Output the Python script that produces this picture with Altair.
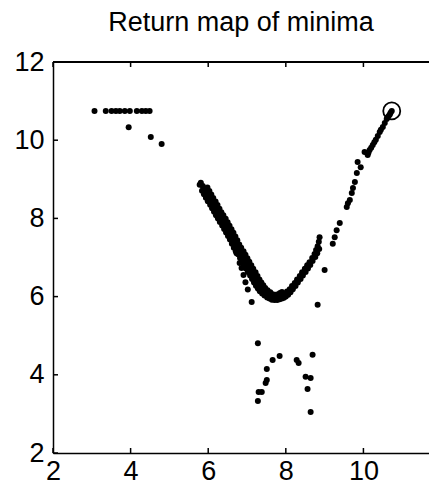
import altair as alt
import pandas as pd

FONT = "Liberation Sans"

# --- data -----------------------------------------------------------------
top_row_x = [3.07, 3.36, 3.51, 3.62, 3.72, 3.85, 3.98, 4.16, 4.29, 4.39, 4.49]
top_row_y = [10.75, 10.75, 10.75, 10.75, 10.75, 10.75, 10.75, 10.75, 10.75, 10.75, 10.75]

top_scatter_x = [3.95, 4.52, 4.80]
top_scatter_y = [10.33, 10.08, 9.90]

v_center_x = [5.81, 5.86, 5.91, 5.96, 6.01, 6.06, 6.12, 6.17, 6.22, 6.27, 6.32, 6.38, 6.43,
              6.48, 6.53, 6.58, 6.63, 6.68, 6.73, 6.79, 6.84, 6.89, 6.94, 6.99, 7.04, 7.10,
              7.15, 7.20, 7.25, 7.30, 7.35, 7.40, 7.46, 7.52, 7.59, 7.65, 7.71, 7.78, 7.84,
              7.90, 7.97, 8.03, 8.10, 8.16, 8.23, 8.29, 8.36, 8.42, 8.49, 8.55, 8.61, 8.68,
              8.74, 8.78, 8.82, 8.85, 8.87]
v_center_y = [8.91, 8.83, 8.75, 8.66, 8.57, 8.48, 8.39, 8.30, 8.21, 8.12, 8.04, 7.95, 7.86,
              7.77, 7.68, 7.59, 7.50, 7.40, 7.29, 7.20, 7.12, 7.03, 6.94, 6.85, 6.76, 6.67,
              6.58, 6.49, 6.40, 6.32, 6.25, 6.18, 6.12, 6.07, 6.02, 5.99, 5.96, 5.97, 5.99,
              6.03, 6.07, 6.13, 6.19, 6.27, 6.35, 6.44, 6.53, 6.62, 6.71, 6.80, 6.88, 6.99,
              7.09, 7.19, 7.29, 7.40, 7.52]

v_upper_x = [5.98, 6.03, 6.08, 6.13, 6.19, 6.24, 6.29, 6.34, 6.39, 6.45, 6.50, 6.55, 6.60,
             6.65, 6.70, 6.75, 6.80, 6.85, 6.91, 6.96, 7.01, 7.06, 7.11, 7.16, 7.22, 7.27,
             7.32, 7.37, 7.42, 7.47, 7.53, 7.60, 7.66, 7.73, 7.80, 7.85, 7.90]
v_upper_y = [8.79, 8.70, 8.61, 8.52, 8.43, 8.34, 8.25, 8.16, 8.08, 7.99, 7.90, 7.81, 7.72,
             7.63, 7.54, 7.44, 7.33, 7.25, 7.16, 7.07, 6.98, 6.89, 6.80, 6.71, 6.62, 6.53,
             6.44, 6.36, 6.29, 6.22, 6.16, 6.11, 6.06, 6.05, 6.06, 6.09, 6.12]

v_lower_x = [5.78, 5.84, 5.89, 5.94, 5.99, 6.05, 6.10, 6.15, 6.20, 6.25, 6.30, 6.36, 6.41,
             6.46, 6.51, 6.56, 6.61, 6.66, 6.71, 6.77, 6.82, 6.87, 6.92, 6.97, 7.02, 7.08,
             7.13, 7.18, 7.23, 7.28, 7.33, 7.39, 7.45, 7.52, 7.58, 7.64, 7.71, 7.78, 7.84,
             7.90, 7.95, 8.00, 8.06, 8.12, 8.18, 8.25, 8.31, 8.38, 8.44, 8.51, 8.57, 8.63,
             8.69, 8.76, 8.81, 8.86]
v_lower_y = [8.86, 8.71, 8.62, 8.53, 8.44, 8.35, 8.26, 8.17, 8.08, 8.00, 7.91, 7.82, 7.73,
             7.64, 7.55, 7.46, 7.35, 7.25, 7.16, 7.08, 6.99, 6.90, 6.81, 6.72, 6.63, 6.54,
             6.45, 6.36, 6.28, 6.21, 6.14, 6.08, 6.03, 5.98, 5.95, 5.92, 5.91, 5.91, 5.93,
             5.95, 5.97, 6.00, 6.05, 6.11, 6.19, 6.27, 6.36, 6.45, 6.54, 6.63, 6.72, 6.81,
             6.91, 7.01, 7.11, 7.22]

branch_x = [6.60, 6.73, 6.81, 6.86, 6.91, 6.96, 7.02, 7.12]
branch_y = [7.45, 7.11, 6.86, 6.73, 6.55, 6.37, 6.18, 5.86]

right_dots_x = [8.82, 9.00, 9.21, 9.26, 9.31, 9.39, 9.57, 9.60, 9.65, 9.70, 9.73, 9.78,
                9.83, 9.85, 9.93]
right_dots_y = [5.79, 6.68, 7.35, 7.52, 7.70, 7.88, 8.29, 8.39, 8.47, 8.65, 8.78, 8.93,
                9.16, 9.44, 9.31]

upper_line_x = [10.03, 10.11, 10.13, 10.16, 10.20, 10.24, 10.28, 10.32, 10.37, 10.42, 10.45,
                10.50, 10.55, 10.60, 10.62, 10.65, 10.68, 10.70, 10.73]
upper_line_y = [9.70, 9.62, 9.68, 9.75, 9.81, 9.88, 9.95, 10.01, 10.11, 10.21, 10.27,
                10.34, 10.44, 10.54, 10.58, 10.62, 10.66, 10.70, 10.75]

low_x = [7.28, 7.84, 7.66, 7.51, 7.51, 7.48, 7.38, 7.30, 7.28, 8.28, 8.33, 8.69, 8.51,
         8.64, 8.56, 8.64]
low_y = [4.81, 4.48, 4.38, 4.15, 3.87, 3.79, 3.56, 3.56, 3.33, 4.38, 4.30, 4.51, 3.95,
         3.92, 3.64, 3.05]

marker_x = [10.73]
marker_y = [10.75]

x_ticks = [2, 4, 6, 8, 10]
y_ticks = [2, 4, 6, 8, 10, 12]
x_domain = [2, 11.69]
y_domain = [2, 12]

# --------------------------------------------------------------------------
xs = (top_row_x + top_scatter_x + v_center_x + v_upper_x + v_lower_x + branch_x
      + right_dots_x + upper_line_x + low_x)
ys = (top_row_y + top_scatter_y + v_center_y + v_upper_y + v_lower_y + branch_y
      + right_dots_y + upper_line_y + low_y)
pts = pd.DataFrame({"x": xs, "y": ys})
mk = pd.DataFrame({"x": marker_x, "y": marker_y})
xt = pd.DataFrame({"x": x_ticks})
yt = pd.DataFrame({"y": y_ticks})

W, H = 376, 391
xs_scale = alt.Scale(domain=x_domain, nice=False, zero=False)
ys_scale = alt.Scale(domain=y_domain, nice=False, zero=False)

x_axis = alt.Axis(values=x_ticks, labelFontSize=27, labelFont=FONT, labelColor="black",
                  ticks=False, tickSize=0, domain=True, domainColor="black",
                  domainWidth=1.5, grid=False, labelPadding=5, labelFlush=False, title=None)
y_axis = alt.Axis(values=y_ticks, labelFontSize=27, labelFont=FONT, labelColor="black",
                  ticks=False, tickSize=0, domain=True, domainColor="black",
                  domainWidth=1.5, grid=False, labelPadding=9, labelFlush=False, title=None)

X = alt.X("x:Q", scale=xs_scale, axis=x_axis)
Y = alt.Y("y:Q", scale=ys_scale, axis=y_axis)

points = alt.Chart(pts).mark_circle(size=36, color="black", opacity=1).encode(x=X, y=Y)

marker = alt.Chart(mk).mark_point(shape="circle", size=290, color="black", filled=False,
                                  strokeWidth=1.8, opacity=1).encode(x=X, y=Y)

top_border = alt.Chart(xt).mark_rule(color="black", strokeWidth=1.5).encode(
    x=alt.value(0), x2=alt.value(W + 8), y=alt.value(0))
xtick_bottom = alt.Chart(xt).mark_rule(color="black", strokeWidth=1.5).encode(
    x=X, y=alt.value(H), y2=alt.value(H - 5))
xtick_top = alt.Chart(xt).mark_rule(color="black", strokeWidth=1.5).encode(
    x=X, y=alt.value(0), y2=alt.value(5))
ytick_left = alt.Chart(yt).mark_rule(color="black", strokeWidth=1.5).encode(
    y=Y, x=alt.value(0), x2=alt.value(5))

chart = alt.layer(points, marker, top_border, xtick_bottom, xtick_top, ytick_left).properties(
    width=W, height=H,
    title=alt.TitleParams("Return map of minima", fontSize=27, font=FONT,
                          fontWeight="normal", color="black", baseline="alphabetic",
                          offset=15, dy=25, anchor="middle"),
    autosize=alt.AutoSizeParams(type="none"),
    padding={"left": 45, "top": 54, "right": 0, "bottom": 32},
).configure_view(stroke="transparent", strokeWidth=0).configure(background="white")

chart.save("out.html", embed_options={"renderer": "svg", "actions": False})
